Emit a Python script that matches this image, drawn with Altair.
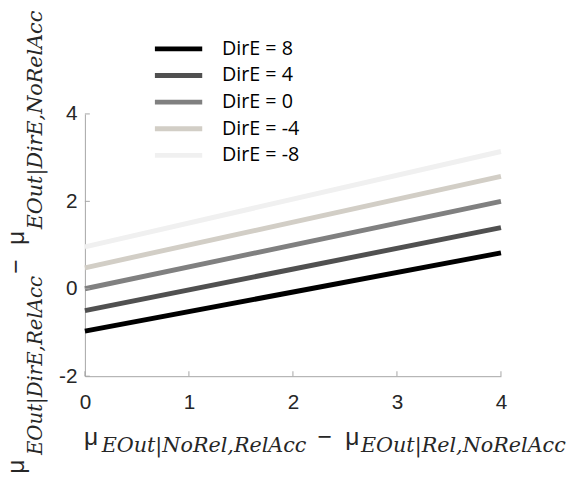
import altair as alt
import pandas as pd

# ---- data ----
DIRE_LABELS = ["DirE = 8", "DirE = 4", "DirE = 0", "DirE = -4", "DirE = -8"]
LINE_COLORS = ["#000000", "#505050", "#808080", "#d2cec6", "#f0f0f0"]
X_POINTS = [0, 4]
Y_AT_0 = [-0.97, -0.50, 0.00, 0.48, 0.96]
Y_AT_4 = [0.82, 1.40, 2.00, 2.57, 3.14]
X_TICKS = [0, 1, 2, 3, 4]
Y_TICKS = [-2, 0, 2, 4]

X_TITLE_MU = ["μ"]
X_TITLE_SUB1 = ["EOut|NoRel,RelAcc"]
X_TITLE_MINUS = ["−"]
X_TITLE_SUB2 = ["EOut|Rel,NoRelAcc"]
Y_TITLE_SUB1 = ["EOut|DirE,RelAcc"]
Y_TITLE_SUB2 = ["EOut|DirE,NoRelAcc"]

rows = []
for lab, y0, y1 in zip(DIRE_LABELS, Y_AT_0, Y_AT_4):
    rows.append({"DirE": lab, "x": X_POINTS[0], "y": y0})
    rows.append({"DirE": lab, "x": X_POINTS[1], "y": y1})
df = pd.DataFrame(rows)

W, H = 422, 266
AXIS_GRAY = "#a6a6a6"
LABEL_COLOR = "#262626"

xscale = alt.Scale(domain=[0, 4], nice=False)
yscale = alt.Scale(domain=[-2, 4], nice=False)

lines = alt.Chart(df).mark_line(strokeWidth=5, strokeCap="butt").encode(
    x=alt.X("x:Q", scale=xscale,
            axis=alt.Axis(values=X_TICKS, labelExpr="datum.value + ''",
                          title=None, grid=False,
                          tickSize=0, domainColor=AXIS_GRAY,
                          labelFont="Liberation Sans", labelFontSize=21,
                          labelColor=LABEL_COLOR, labelPadding=16,
                          labelFlush=False)),
    y=alt.Y("y:Q", scale=yscale,
            axis=alt.Axis(values=Y_TICKS, labelExpr="datum.value + ''",
                          title=None, grid=False,
                          tickSize=0, domainColor=AXIS_GRAY,
                          labelFont="Liberation Sans", labelFontSize=21,
                          labelColor=LABEL_COLOR, labelPadding=8,
                          labelFlush=False)),
    color=alt.Color("DirE:N",
                    scale=alt.Scale(domain=DIRE_LABELS, range=LINE_COLORS),
                    legend=alt.Legend(title=None, orient="none",
                                      legendX=68.5, legendY=-79.5,
                                      symbolType="stroke", symbolSize=2304,
                                      symbolStrokeWidth=5, clipHeight=27,
                                      rowPadding=0, labelOffset=17.5,
                                      labelFont="Open Sans", labelFontSize=20,
                                      labelColor="#000000", padding=0)),
)

xticks = alt.Chart(pd.DataFrame({"v": X_TICKS})).mark_rule(
    color=AXIS_GRAY, strokeWidth=1).encode(
    x=alt.X("v:Q", scale=xscale), y=alt.value(H), y2=alt.value(H - 5))
yticks = alt.Chart(pd.DataFrame({"v": Y_TICKS})).mark_rule(
    color=AXIS_GRAY, strokeWidth=1).encode(
    y=alt.Y("v:Q", scale=yscale), x=alt.value(0), x2=alt.value(5))


def txt(values, x, y, font, size, italic=False, angle=0):
    kw = dict(align="left", baseline="alphabetic", font=font, fontSize=size,
              color=LABEL_COLOR)
    if italic:
        kw["fontStyle"] = "italic"
    if angle:
        kw["angle"] = angle
    return alt.Chart(pd.DataFrame({"t": values})).mark_text(**kw).encode(
        text="t:N", x=alt.value(x), y=alt.value(y))


MU_FONT, MU_SIZE = "Liberation Sans", 25
SUB_FONT = "DejaVu Serif"

titles = [
    txt(X_TITLE_MU, -1, 336, MU_FONT, MU_SIZE),
    txt(X_TITLE_SUB1, 17, 343, SUB_FONT, 21, italic=True),
    txt(X_TITLE_MINUS, 236, 336, MU_FONT, MU_SIZE),
    txt(X_TITLE_MU, 264, 336, MU_FONT, MU_SIZE),
    txt(X_TITLE_SUB2, 280, 343, SUB_FONT, 21, italic=True),
    txt(X_TITLE_MU, -62, 365, MU_FONT, MU_SIZE, angle=270),
    txt(Y_TITLE_SUB1, -44, 346, SUB_FONT, 20, italic=True, angle=270),
    txt(X_TITLE_MINUS, -62, 162, MU_FONT, MU_SIZE, angle=270),
    txt(X_TITLE_MU, -62, 133, MU_FONT, MU_SIZE, angle=270),
    txt(Y_TITLE_SUB2, -44, 117, SUB_FONT, 21, italic=True, angle=270),
]

chart = alt.layer(lines, xticks, yticks, *titles).properties(
    width=W, height=H,
    autosize=alt.AutoSizeParams(type="none"),
    padding={"left": 78, "top": 104, "right": 68, "bottom": 113},
).configure_view(stroke=None)

chart.save("out.html", embed_options={"renderer": "svg", "actions": False})
